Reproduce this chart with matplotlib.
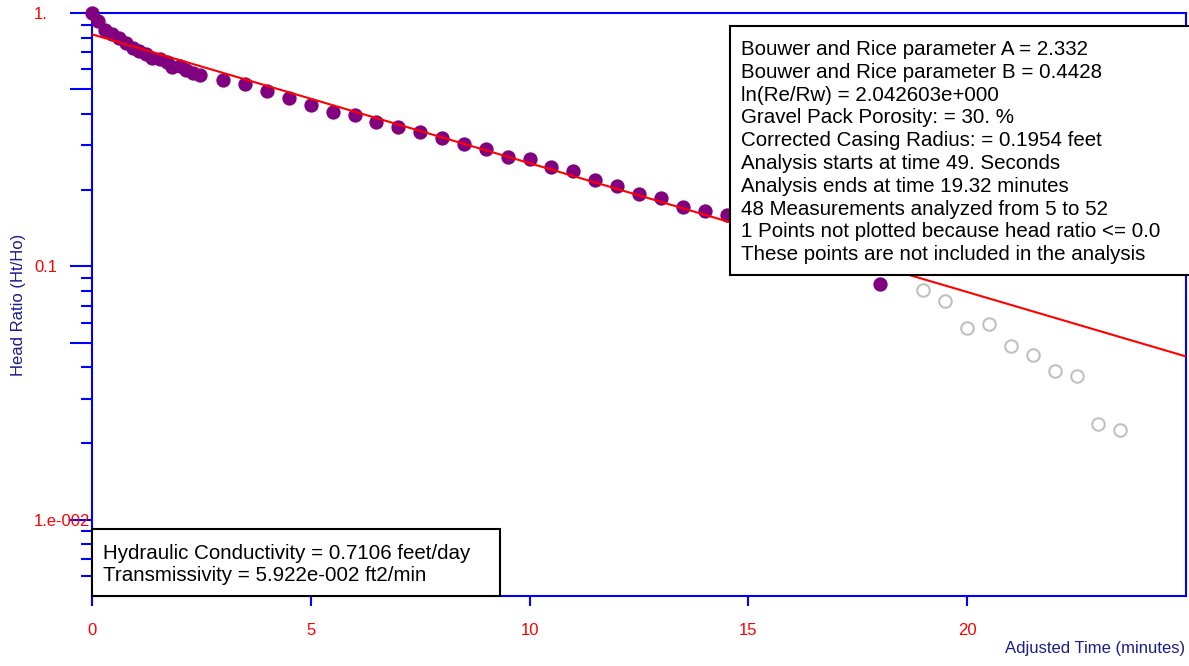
import matplotlib
matplotlib.use("Agg")
import matplotlib.pyplot as plt
import numpy as np
from matplotlib import patches
from matplotlib.ticker import FixedLocator, NullFormatter

plt.rcParams['font.family'] = ['Liberation Sans', 'DejaVu Sans']

# Analyzed measurements (filled purple)
analyzed_t = [0.0, 0.13, 0.30, 0.45, 0.62, 0.78, 0.93, 1.08, 1.23, 1.38, 1.55, 1.72,
              1.82, 2.0, 2.15, 2.30, 2.47, 3.0, 3.5, 4.0, 4.5, 5.0, 5.5, 6.0, 6.5,
              7.0, 7.5, 8.0, 8.5, 9.0, 9.5, 10.0, 10.5, 11.0, 11.5, 12.0, 12.5,
              13.0, 13.5, 14.0, 14.5, 15.0, 15.5, 16.0, 16.5, 17.0, 17.5, 18.0]
analyzed_h = [1.0, 0.93, 0.86, 0.83, 0.80, 0.76, 0.73, 0.71, 0.69, 0.665, 0.66, 0.64,
              0.61, 0.62, 0.595, 0.58, 0.57, 0.5435, 0.5225, 0.493, 0.46, 0.433,
              0.407, 0.395, 0.372, 0.355, 0.340, 0.320, 0.303, 0.291, 0.270, 0.265,
              0.246, 0.237, 0.220, 0.208, 0.193, 0.186, 0.1715, 0.165, 0.159, 0.149,
              0.141, 0.131, 0.123, 0.112, 0.103, 0.0854]

# Measurements not included in the analysis (hollow gray)
excluded_t = [19.0, 19.5, 20.0, 20.5, 21.0, 21.5, 22.0, 22.5, 23.0, 23.5]
excluded_h = [0.0804, 0.0732, 0.0572, 0.0594, 0.0483, 0.0448, 0.0385, 0.0370,
              0.0239, 0.0226]

# Bouwer and Rice fit line end points
fit_t = [0.0, 25.0]
fit_h = [0.824, 0.0441]

x_ticks = [0, 5, 10, 15, 20]
y_labels = {1.0: "1.", 0.1: "0.1", 0.01: "1.e-002"}

results_lines = [
    "Bouwer and Rice parameter A = 2.332",
    "Bouwer and Rice parameter B = 0.4428",
    "ln(Re/Rw) = 2.042603e+000",
    "Gravel Pack Porosity: = 30. %",
    "Corrected Casing Radius: = 0.1954 feet",
    "Analysis starts at time 49. Seconds",
    "Analysis ends at time 19.32 minutes",
    "48 Measurements analyzed from 5 to 52",
    "1 Points not plotted because head ratio <= 0.0",
    "These points are not included in the analysis",
]
k_lines = [
    "Hydraulic Conductivity = 0.7106 feet/day",
    "Transmissivity = 5.922e-002 ft2/min",
]

W, H = 1189, 666
fig = plt.figure(figsize=(W / 100, H / 100), dpi=100)
ax = fig.add_axes([92 / W, 1 - 596 / H, (1186 - 92) / W, (596 - 13) / H])

blue = "#0000ff"
red = "#ff0000"
navy = "#1c1c8c"

ax.plot(analyzed_t, analyzed_h, "o", color="#800080", markersize=10.3,
        markeredgewidth=0, clip_on=False, zorder=3)
ax.plot(excluded_t, excluded_h, "o", mfc="none", mec="#c0c0c0", markersize=9,
        markeredgewidth=1.5, zorder=3)
ax.plot(fit_t, fit_h, color=red, linewidth=1.5, zorder=4)

ax.set_yscale("log")
ax.set_xlim(0, 25)
ax.set_ylim(0.005, 1.0)

for s in ax.spines.values():
    s.set_color(blue)
    s.set_linewidth(1.5)

ax.set_xticks(x_ticks)
ax.set_xticklabels([str(v) for v in x_ticks])
ax.tick_params(axis="x", direction="out", length=7.5, width=1.5, color=blue,
               labelcolor=red, labelsize=12, pad=12)

major_y = [1.0, 0.5, 0.1, 0.05, 0.01]
ax.yaxis.set_major_locator(FixedLocator(major_y))
ax.set_yticklabels([y_labels.get(v, "") for v in major_y])
minor_y = [m * d for d in (0.1, 0.01, 0.001) for m in (2, 3, 4, 6, 7, 8, 9)]
ax.yaxis.set_minor_locator(FixedLocator([v for v in minor_y if v > 0.005]))
ax.yaxis.set_minor_formatter(NullFormatter())
ax.tick_params(axis="y", which="major", direction="out", length=16, width=1.5,
               color=blue, labelcolor=red, labelsize=12, pad=25.8)
ax.tick_params(axis="y", which="minor", direction="out", length=8, width=1.5,
               color=blue)
for lab in ax.get_yticklabels():
    lab.set_horizontalalignment("left")

fig.text(19 / W, 1 - 305 / H, "Head Ratio (Ht/Ho)", rotation=90, color=navy,
         fontsize=12, ha="center", va="center")
fig.text(1185 / W, 1 - 648 / H, "Adjusted Time (minutes)", color=navy,
         fontsize=12, ha="right", va="center")

# Results boxes
def text_box(x0, y0, x1, y1, lines, tx, first_base, step):
    rect = patches.Rectangle((x0 / W, 1 - y1 / H), (x1 - x0) / W, (y1 - y0) / H,
                             transform=fig.transFigure, facecolor="white",
                             edgecolor="black", linewidth=1.5, zorder=5)
    fig.add_artist(rect)
    for i, line in enumerate(lines):
        fig.text(tx / W, 1 - (first_base + i * step) / H, line, fontsize=14.8,
                 color="black", ha="left", va="baseline", zorder=6)

text_box(730, 26, 1200, 275, results_lines, 741, 55, 22.8)
text_box(92, 529, 500, 596, k_lines, 103, 559, 22)

fig.savefig("out.png", dpi=100)
